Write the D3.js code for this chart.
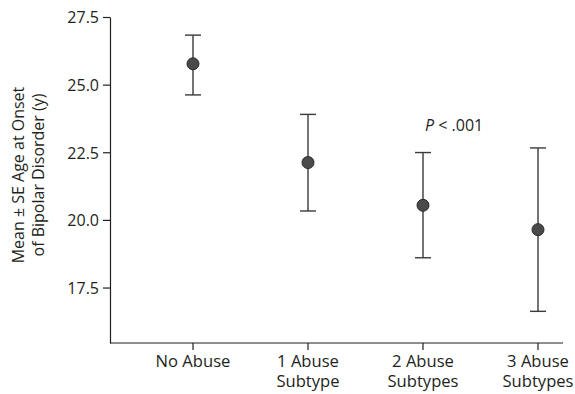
<!DOCTYPE html>
<html>
<head>
<meta charset="utf-8">
<script src="https://d3js.org/d3.v7.min.js"></script>
<style>
    body { margin: 0; background: #fff; }
    text { font-family: "Open Sans", sans-serif; fill: #231f20; }
    .ytick text { font-size: 16px; }
    .xtick text { font-size: 16.6px; }
    .domain, .tick line { stroke: #231f20; stroke-width: 1.2; }
</style>
</head>
<body>
<div id="chart"></div>
<script>
    // data
    const groups = ["No Abuse", "1 Abuse|Subtype", "2 Abuse|Subtypes", "3 Abuse|Subtypes"];
    const means = [25.77, 22.12, 20.54, 19.64];
    const upper = [26.83, 23.90, 22.49, 22.66];
    const lower = [24.62, 20.33, 18.60, 16.62];
    const yTicks = [17.5, 20.0, 22.5, 25.0, 27.5];

    const width = 575, height = 394;
    const margin = { top: 17, right: 12, bottom: 51, left: 110 };

    const svg = d3.select("#chart")
        .append("svg")
        .attr("width", width)
        .attr("height", height);

    const x = d3.scalePoint()
        .domain(groups)
        .range([193, 538]);

    const y = d3.scaleLinear()
        .domain([15.45, 27.5])
        .range([height - margin.bottom, margin.top]);

    // y axis
    svg.append("g")
        .attr("transform", `translate(${margin.left},0)`)
        .call(d3.axisLeft(y).tickValues(yTicks).tickFormat(d3.format(".1f")).tickSize(7).tickSizeOuter(0))
        .call(g => g.selectAll(".tick").classed("ytick", true))
        .call(g => g.selectAll(".tick text").attr("dx", "-1").attr("dy", "0.36em"));

    // x axis
    const xAxis = svg.append("g")
        .attr("transform", `translate(0,${height - margin.bottom})`);
    xAxis.append("line")
        .attr("class", "domain")
        .attr("x1", margin.left).attr("x2", width - margin.right);
    xAxis.selectAll(".tick")
        .data(groups)
        .join("g")
        .attr("class", "tick xtick")
        .attr("transform", d => `translate(${x(d)},0)`)
        .each(function (d) {
            const g = d3.select(this);
            g.append("line").attr("y2", 7);
            const t = g.append("text")
                .attr("text-anchor", "middle")
                .attr("y", 24);
            d.split("|").forEach((s, i) => {
                t.append("tspan").attr("x", 0).attr("dy", i ? 19.5 : 0).text(s);
            });
        });

    // error bars
    const bars = svg.append("g").selectAll("g")
        .data(groups)
        .join("g");

    bars.append("line")
        .attr("x1", d => x(d)).attr("x2", d => x(d))
        .attr("y1", (d, i) => y(upper[i]))
        .attr("y2", (d, i) => y(lower[i]))
        .attr("stroke", "#3a3a3a")
        .attr("stroke-width", 1.4);

    [upper, lower].forEach(arr => {
        bars.append("line")
            .attr("x1", d => x(d) - 8).attr("x2", d => x(d) + 8)
            .attr("y1", (d, i) => y(arr[i]))
            .attr("y2", (d, i) => y(arr[i]))
            .attr("stroke", "#3a3a3a")
            .attr("stroke-width", 1.4);
    });

    bars.append("circle")
        .attr("cx", d => x(d))
        .attr("cy", (d, i) => y(means[i]))
        .attr("r", 6)
        .attr("fill", "#4a4a4c")
        .attr("stroke", "#2a2a2a")
        .attr("stroke-width", 1);

    // p value
    const p = svg.append("text")
        .attr("x", 425)
        .attr("y", 131)
        .attr("font-size", 16);
    p.append("tspan").attr("font-style", "italic").text("P");
    p.append("tspan").text(" < .001");

    // y label
    const lab = svg.append("text")
        .attr("transform", "translate(0,175) rotate(-90)")
        .attr("text-anchor", "middle")
        .attr("font-size", 16);
    lab.append("tspan").attr("x", 0).attr("y", 24).text("Mean \u00b1 SE Age at Onset");
    lab.append("tspan").attr("x", 0).attr("y", 44).text("of Bipolar Disorder (y)");
</script>
</body>
</html>
